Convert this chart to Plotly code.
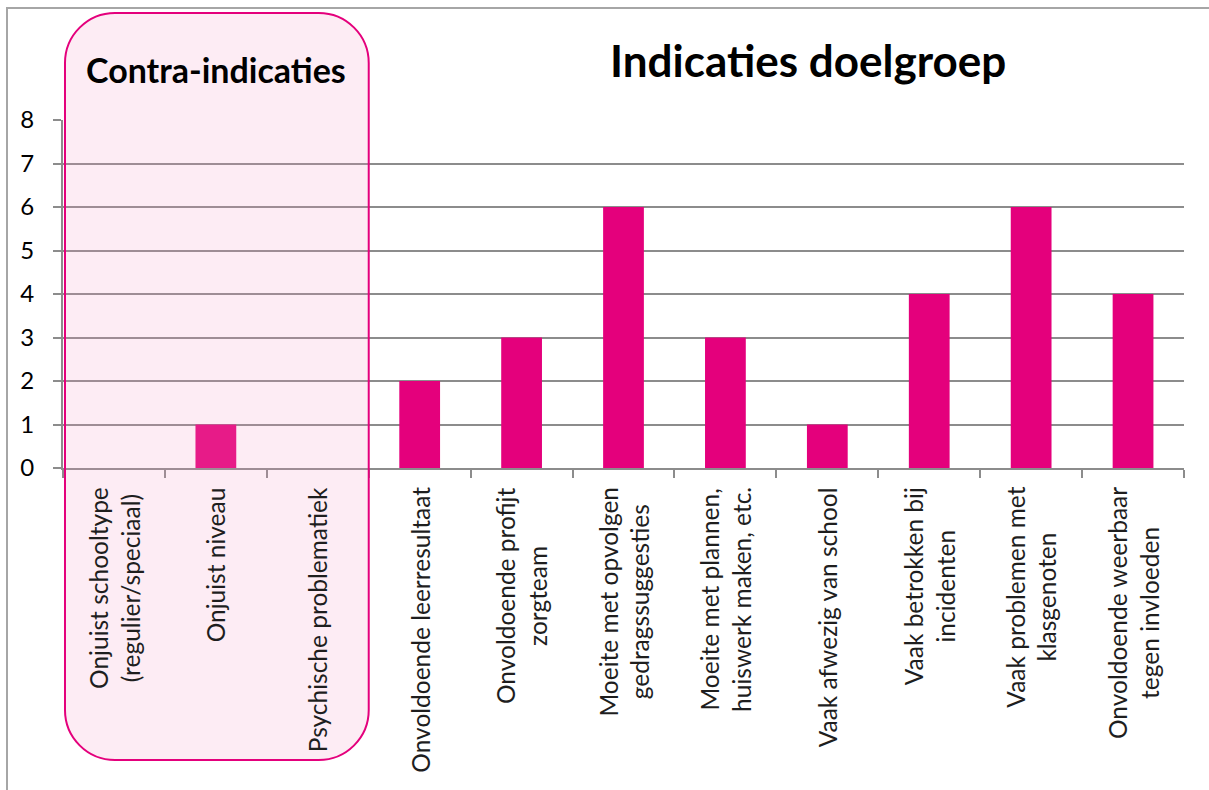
import plotly.graph_objects as go

categories = [
    "Onjuist schooltype<br>(regulier/speciaal)",
    "Onjuist niveau",
    "Psychische problematiek",
    "Onvoldoende leerresultaat",
    "Onvoldoende profijt<br>zorgteam",
    "Moeite met opvolgen<br>gedragssuggesties",
    "Moeite met plannen,<br>huiswerk maken, etc.",
    "Vaak afwezig van school",
    "Vaak betrokken bij<br>incidenten",
    "Vaak problemen met<br>klasgenoten",
    "Onvoldoende weerbaar<br>tegen invloeden",
]
values = [0, 1, 0, 2, 3, 6, 3, 1, 4, 6, 4]
n_contra = 3
y_ticks = [0, 1, 2, 3, 4, 5, 6, 7, 8]

W, H = 1209, 790
ML, MR, MT, MB = 63, 25, 120, 322
PW, PH = W - ML - MR, H - MT - MB

def px_x(p):
    return (p - ML) / PW

def px_y(p):
    return (H - MB - p) / PH

MAGENTA = "#E4007C"
GRID = "#8C8C8C"
FONT = "Lato"

fig = go.Figure()
fig.add_trace(go.Bar(
    x=categories, y=values, width=0.4,
    marker=dict(color=MAGENTA, line=dict(width=0)),
    hoverinfo="x+y",
))

# rounded box for contra-indications
x0p = ML + 2
x1p = ML + PW * n_contra / len(categories)
y0p, y1p = 13, 760
r = 50
k = 0.5523 * r
pts = [
    f"M {x0p + r} {y0p}",
    f"L {x1p - r} {y0p}",
    f"C {x1p - r + k} {y0p} {x1p} {y0p + r - k} {x1p} {y0p + r}",
    f"L {x1p} {y1p - r}",
    f"C {x1p} {y1p - r + k} {x1p - r + k} {y1p} {x1p - r} {y1p}",
    f"L {x0p + r} {y1p}",
    f"C {x0p + r - k} {y1p} {x0p} {y1p - r + k} {x0p} {y1p - r}",
    f"L {x0p} {y0p + r}",
    f"C {x0p} {y0p + r - k} {x0p + r - k} {y0p} {x0p + r} {y0p}",
    "Z",
]
def conv(seg):
    parts = seg.split()
    out = [parts[0]]
    nums = parts[1:]
    for i in range(0, len(nums), 2):
        out.append(f"{px_x(float(nums[i])):.5f},{px_y(float(nums[i+1])):.5f}")
    return " ".join(out)
path = " ".join(conv(s) if s != "Z" else "Z" for s in pts)

shapes = [
    # outer chart border (left and top visible)
    dict(type="rect", xref="paper", yref="paper",
         x0=px_x(7), x1=px_x(1230), y0=px_y(8), y1=px_y(820),
         line=dict(color="#A6A6A6", width=2), fillcolor="rgba(0,0,0,0)", layer="below"),
    dict(type="path", xref="paper", yref="paper", path=path,
         fillcolor="rgba(245,150,195,0.18)", line=dict(color=MAGENTA, width=2), layer="above"),
]

annotations = [
    dict(text="<b>Indicaties doelgroep</b>", xref="paper", yref="paper",
         x=px_x(808), y=px_y(60), xanchor="center", yanchor="middle",
         showarrow=False, font=dict(family=FONT, size=44, color="#000000")),
    dict(text="<b>Contra-indicaties</b>", xref="paper", yref="paper",
         x=px_x(216), y=px_y(69), xanchor="center", yanchor="middle",
         showarrow=False, font=dict(family=FONT, size=34, color="#000000")),
]
for c in categories:
    annotations.append(dict(
        text=c, x=c, xref="x", yref="paper", y=px_y(485),
        xanchor="center", yanchor="top", textangle=-90, align="center",
        showarrow=False, font=dict(family=FONT, size=24.5, color="#1E1E1E"),
    ))

fig.update_layout(
    width=W, height=H,
    margin=dict(l=ML, r=MR, t=MT, b=MB, autoexpand=False),
    paper_bgcolor="white", plot_bgcolor="white",
    showlegend=False, bargap=0.6,
    shapes=shapes, annotations=annotations,
    font=dict(family=FONT, color="#000000"),
)
fig.update_xaxes(
    type="category", showticklabels=False, tickson="boundaries",
    ticks="outside", ticklen=8, tickcolor=GRID, tickwidth=2,
    showline=True, linecolor=GRID, linewidth=2, showgrid=False,
    range=[-0.5, len(categories) - 0.5], automargin=False,
)
fig.update_yaxes(
    range=[0, 8], tickvals=y_ticks, ticks="outside", ticklen=8, tickcolor=GRID, tickwidth=2,
    showline=True, linecolor=GRID, linewidth=2,
    showgrid=True, gridcolor=GRID, gridwidth=2, zeroline=False,
    tickfont=dict(family=FONT, size=24, color="#000000"), ticklabelstandoff=14,
    automargin=False,
)

fig.write_html("out.html", config={"displayModeBar": False},
               post_script="document.body.style.margin='0';")
